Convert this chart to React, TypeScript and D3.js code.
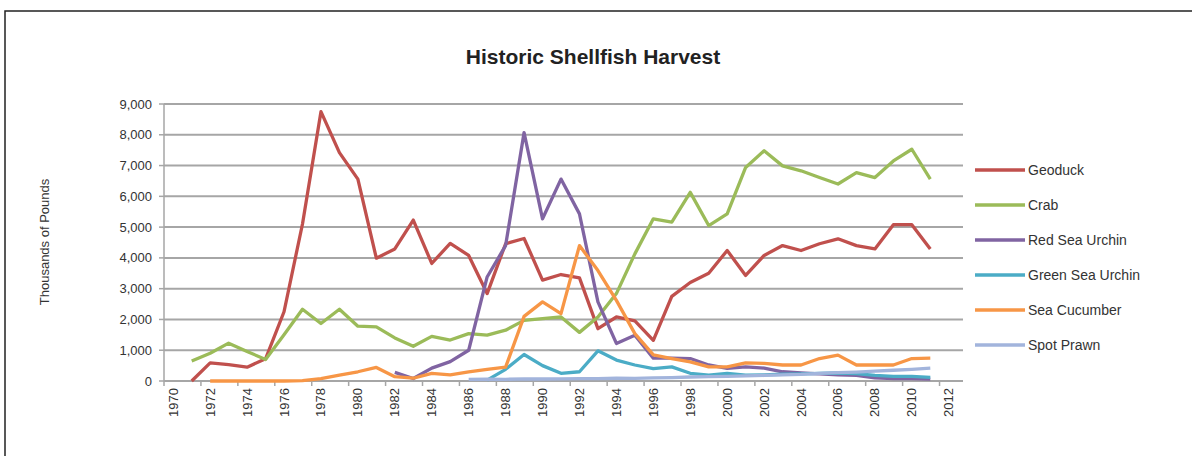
import React from "react";
import * as d3 from "d3";

const years: number[] = d3.range(1970, 2013);
const seriesNames: string[] = ["Geoduck", "Crab", "Red Sea Urchin", "Green Sea Urchin", "Sea Cucumber", "Spot Prawn"];
const seriesColors: string[] = ["#C0504D", "#9BBB59", "#8064A2", "#4BACC6", "#F79646", "#A2B4DC"];
const yTicks: number[] = [0, 1000, 2000, 3000, 4000, 5000, 6000, 7000, 8000, 9000];
const xLabelYears: number[] = d3.range(1970, 2013, 2);

// values listed from 1970 to 2011 (null = no harvest reported)
const geoduck: (number | null)[] = [null, 0, 590, 530, 450, 720, 2250, 5100, 8750, 7420, 6560, 3990, 4290, 5230, 3820, 4470, 4080, 2840, 4460, 4630, 3280, 3460, 3350, 1700, 2080, 1950, 1320, 2750, 3200, 3500, 4240, 3430, 4080, 4400, 4240, 4460, 4620, 4400, 4290, 5080, 5080, 4290];
const crab: (number | null)[] = [null, 650, 900, 1230, 960, 700, 1500, 2330, 1870, 2330, 1780, 1760, 1400, 1130, 1450, 1330, 1540, 1490, 1650, 1970, 2030, 2080, 1580, 2080, 2840, 4130, 5270, 5160, 6130, 5050, 5430, 6940, 7480, 6990, 6830, 6610, 6400, 6770, 6610, 7150, 7530, 6560];
const redSeaUrchin: (number | null)[] = [null, null, null, null, null, null, null, null, null, null, null, null, 280, 80, 420, 630, 1000, 3380, 4400, 8070, 5270, 6560, 5430, 2570, 1220, 1490, 740, 740, 730, 520, 410, 460, 420, 300, 260, 230, 200, 180, 100, 80, 80, 60];
const greenSeaUrchin: (number | null)[] = [null, null, null, null, null, null, null, null, null, null, null, null, null, null, null, null, null, 30, 380, 860, 500, 250, 300, 980, 680, 520, 400, 460, 250, 190, 250, 190, 200, 220, 230, 250, 260, 240, 180, 150, 150, 120];
const seaCucumber: (number | null)[] = [null, null, 0, 0, 0, 0, 0, 10, 80, 190, 300, 440, 140, 90, 250, 200, 300, 380, 450, 2100, 2570, 2190, 4400, 3590, 2620, 1540, 850, 730, 620, 460, 460, 590, 570, 520, 520, 730, 840, 520, 520, 520, 730, 740];
const spotPrawn: (number | null)[] = [null, null, null, null, null, null, null, null, null, null, null, null, null, null, null, null, 50, 60, 55, 70, 65, 70, 80, 75, 90, 85, 100, 110, 130, 140, 150, 165, 180, 200, 215, 250, 270, 290, 320, 350, 380, 420];

const seriesValues = [geoduck, crab, redSeaUrchin, greenSeaUrchin, seaCucumber, spotPrawn];

export default function App() {
  const W = 1192, H = 456;
  const left = 164, right = 958, top = 104, bottom = 381;
  const x = d3.scaleBand<number>().domain(years).range([left, right]);
  const y = d3.scaleLinear().domain([0, 9000]).range([bottom, top]);
  const cx = (yr: number) => (x(yr) as number) + x.bandwidth() / 2;
  const fmt = d3.format(",");
  const font = "'Liberation Sans', Arial, sans-serif";

  const line = d3
    .line<{ yr: number; v: number | null }>()
    .defined((d) => d.v !== null)
    .x((d) => cx(d.yr))
    .y((d) => y(d.v as number));

  return (
    <svg width={W} height={H} style={{ position: "absolute", left: 0, top: 0, background: "#fff" }} fontFamily={font}>
      <rect x={5} y={11} width={1200} height={460} fill="#fff" stroke="#222" strokeWidth={1.5} />
      <text x={593} y={64} textAnchor="middle" fontSize={21} fontWeight="bold" fill="#222">
        Historic Shellfish Harvest
      </text>
      {yTicks.map((t) => (
        <g key={t}>
          {t > 0 && <line x1={left} x2={963} y1={y(t)} y2={y(t)} stroke="#a6a6a6" strokeWidth={2} />}
          <line x1={left - 5} x2={left} y1={y(t)} y2={y(t)} stroke="#a6a6a6" strokeWidth={1.5} />
          <text x={152} y={y(t) + 4.5} textAnchor="end" fontSize={13} fill="#333">
            {fmt(t)}
          </text>
        </g>
      ))}
      <line x1={left} x2={left} y1={top} y2={bottom} stroke="#a6a6a6" strokeWidth={1.5} />
      <line x1={left} x2={963} y1={bottom} y2={bottom} stroke="#a6a6a6" strokeWidth={2} />
      {xLabelYears.map((yr) => (
        <g key={yr}>
          <line x1={x(yr) as number} x2={x(yr) as number} y1={bottom} y2={bottom + 5} stroke="#a6a6a6" strokeWidth={1.5} />
          <text
            transform={`translate(${cx(yr) + 4.5},${bottom + 7}) rotate(-90)`}
            textAnchor="end"
            fontSize={13}
            fill="#333"
          >
            {yr}
          </text>
        </g>
      ))}
      <text transform={`translate(49,242) rotate(-90)`} textAnchor="middle" fontSize={13} fill="#333">
        Thousands of Pounds
      </text>
      {seriesValues.map((vals, i) => (
        <path
          key={seriesNames[i]}
          d={line(vals.map((v, k) => ({ yr: years[k], v }))) || ""}
          fill="none"
          stroke={seriesColors[i]}
          strokeWidth={3.3}
          strokeLinejoin="round"
        />
      ))}
      {seriesNames.map((n, i) => (
        <g key={n} transform={`translate(975,${170 + i * 35})`}>
          <line x1={0} x2={50} y1={0} y2={0} stroke={seriesColors[i]} strokeWidth={3.3} />
          <text x={53} y={5} fontSize={14} fill="#333">
            {n}
          </text>
        </g>
      ))}
    </svg>
  );
}
